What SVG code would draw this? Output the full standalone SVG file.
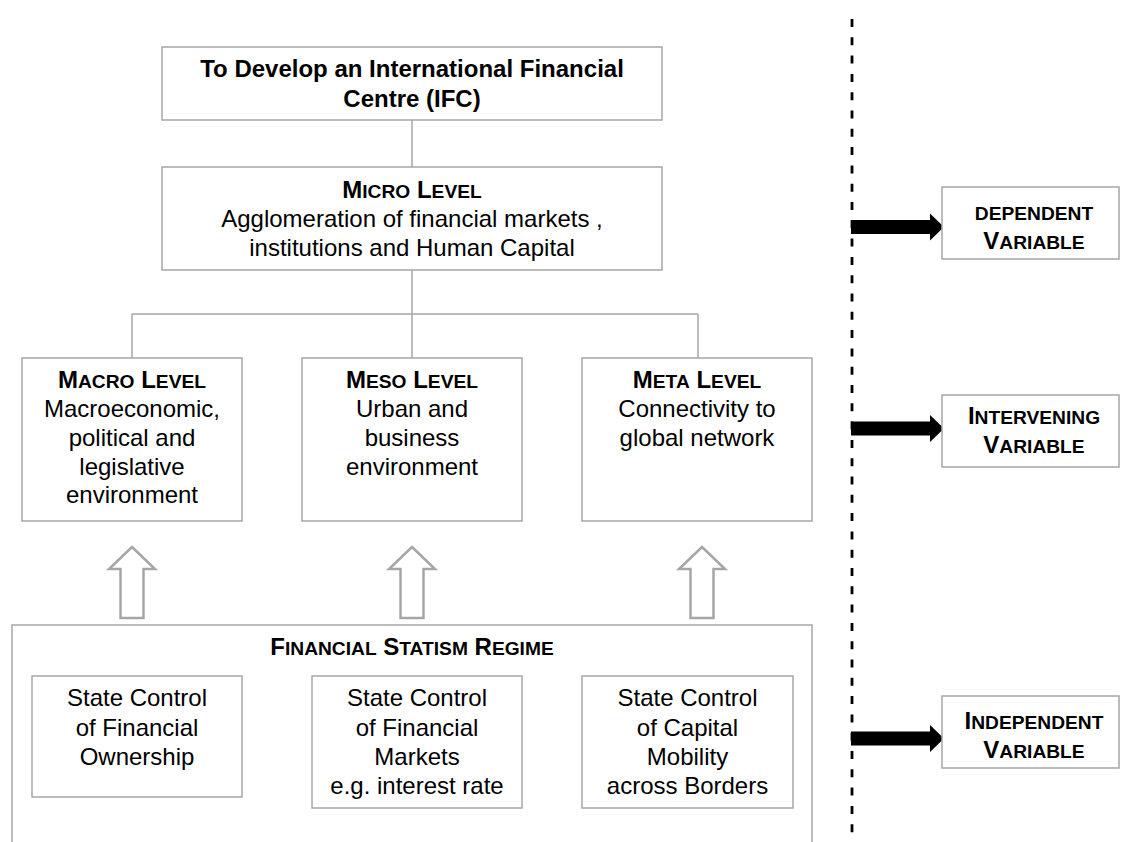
<svg xmlns="http://www.w3.org/2000/svg" width="1123" height="842" viewBox="0 0 1123 842">
<style>
.box{fill:#fff;stroke:#a6a6a6;stroke-width:1.5}
.ln{fill:none;stroke:#a6a6a6;stroke-width:1.5}
.t{font-family:"Liberation Sans",Arial,sans-serif;font-size:24px;fill:#000;text-anchor:middle}
.b{font-weight:bold}
.sc{font-size:19.2px}
.hol{fill:#fff;stroke:#a6a6a6;stroke-width:2.5;stroke-linejoin:miter}
.blk{fill:#000}
</style>
<rect width="1123" height="842" fill="#fff"/>
<g id="connectors">
<path class="ln" d="M412 120V167M412 270V314M132 314H698M132 314V358M412 314V358M698 314V358"/>
<path id="divider" d="M852 19V842" stroke="#000" stroke-width="2.8" stroke-dasharray="8 10.3" fill="none"/>
<path class="hol" d="M132 547L155 569H143.5V618H120.5V569H109Z"/>
<path class="hol" d="M412 547L435 569H423.5V618H400.5V569H389Z"/>
<path class="hol" d="M702 547L725 569H713.5V618H690.5V569H679Z"/>
<path class="blk" d="M851 220H930V213.5L944 227L930 240.5V234H851Z"/>
<path class="blk" d="M851 421.5H930V415L944 428.5L930 442V435.5H851Z"/>
<path class="blk" d="M851 731.5H930V725L944 738.5L930 752V745.5H851Z"/>
</g>
<g id="ifc">
<rect class="box" x="162" y="47" width="500" height="73"/>
<text class="t b" x="412" y="77">To Develop an International Financial</text>
<text class="t b" x="412" y="107">Centre (IFC)</text>
</g>
<g id="micro">
<rect class="box" x="162" y="167" width="500" height="103"/>
<text class="t b" x="412" y="198">M<tspan class="sc">ICRO</tspan> L<tspan class="sc">EVEL</tspan></text>
<text class="t" x="412" y="227">Agglomeration of financial markets ,</text>
<text class="t" x="412" y="256">institutions and Human Capital</text>
</g>
<g id="macro">
<rect class="box" x="22" y="358" width="220" height="163"/>
<text class="t b" x="132" y="388">M<tspan class="sc">ACRO</tspan> L<tspan class="sc">EVEL</tspan></text>
<text class="t" x="132" y="417">Macroeconomic,</text>
<text class="t" x="132" y="446">political and</text>
<text class="t" x="132" y="475">legislative</text>
<text class="t" x="132" y="503">environment</text>
</g>
<g id="meso">
<rect class="box" x="302" y="358" width="220" height="163"/>
<text class="t b" x="412" y="388">M<tspan class="sc">ESO</tspan> L<tspan class="sc">EVEL</tspan></text>
<text class="t" x="412" y="417">Urban and</text>
<text class="t" x="412" y="446">business</text>
<text class="t" x="412" y="475">environment</text>
</g>
<g id="meta">
<rect class="box" x="582" y="358" width="230" height="163"/>
<text class="t b" x="697" y="388">M<tspan class="sc">ETA</tspan> L<tspan class="sc">EVEL</tspan></text>
<text class="t" x="697" y="417">Connectivity to</text>
<text class="t" x="697" y="446">global network</text>
</g>
<g id="regime">
<path class="ln" d="M12 842V625H812V842"/>
<text class="t b" x="412" y="655">F<tspan class="sc">INANCIAL</tspan> S<tspan class="sc">TATISM</tspan> R<tspan class="sc">EGIME</tspan></text>
</g>
<g id="ownership">
<rect class="box" x="32" y="676" width="210" height="121"/>
<text class="t" x="137" y="706">State Control</text>
<text class="t" x="137" y="736">of Financial</text>
<text class="t" x="137" y="765">Ownership</text>
</g>
<g id="markets">
<rect class="box" x="312" y="676" width="210" height="132"/>
<text class="t" x="417" y="706">State Control</text>
<text class="t" x="417" y="736">of Financial</text>
<text class="t" x="417" y="765">Markets</text>
<text class="t" x="417" y="794">e.g. interest rate</text>
</g>
<g id="mobility">
<rect class="box" x="582" y="676" width="211" height="132"/>
<text class="t" x="687.5" y="706">State Control</text>
<text class="t" x="687.5" y="736">of Capital</text>
<text class="t" x="687.5" y="765">Mobility</text>
<text class="t" x="687.5" y="794">across Borders</text>
</g>
<g id="dependent">
<rect class="box" x="942" y="187" width="177" height="72"/>
<text class="t b sc" x="1034" y="220">DEPENDENT</text>
<text class="t b" x="1034" y="249">V<tspan class="sc">ARIABLE</tspan></text>
</g>
<g id="intervening">
<rect class="box" x="942" y="395" width="177" height="72"/>
<text class="t b" x="1034" y="424">I<tspan class="sc">NTERVENING</tspan></text>
<text class="t b" x="1034" y="453">V<tspan class="sc">ARIABLE</tspan></text>
</g>
<g id="independent">
<rect class="box" x="942" y="696" width="177" height="72"/>
<text class="t b" x="1034" y="729">I<tspan class="sc">NDEPENDENT</tspan></text>
<text class="t b" x="1034" y="758">V<tspan class="sc">ARIABLE</tspan></text>
</g>
</svg>
